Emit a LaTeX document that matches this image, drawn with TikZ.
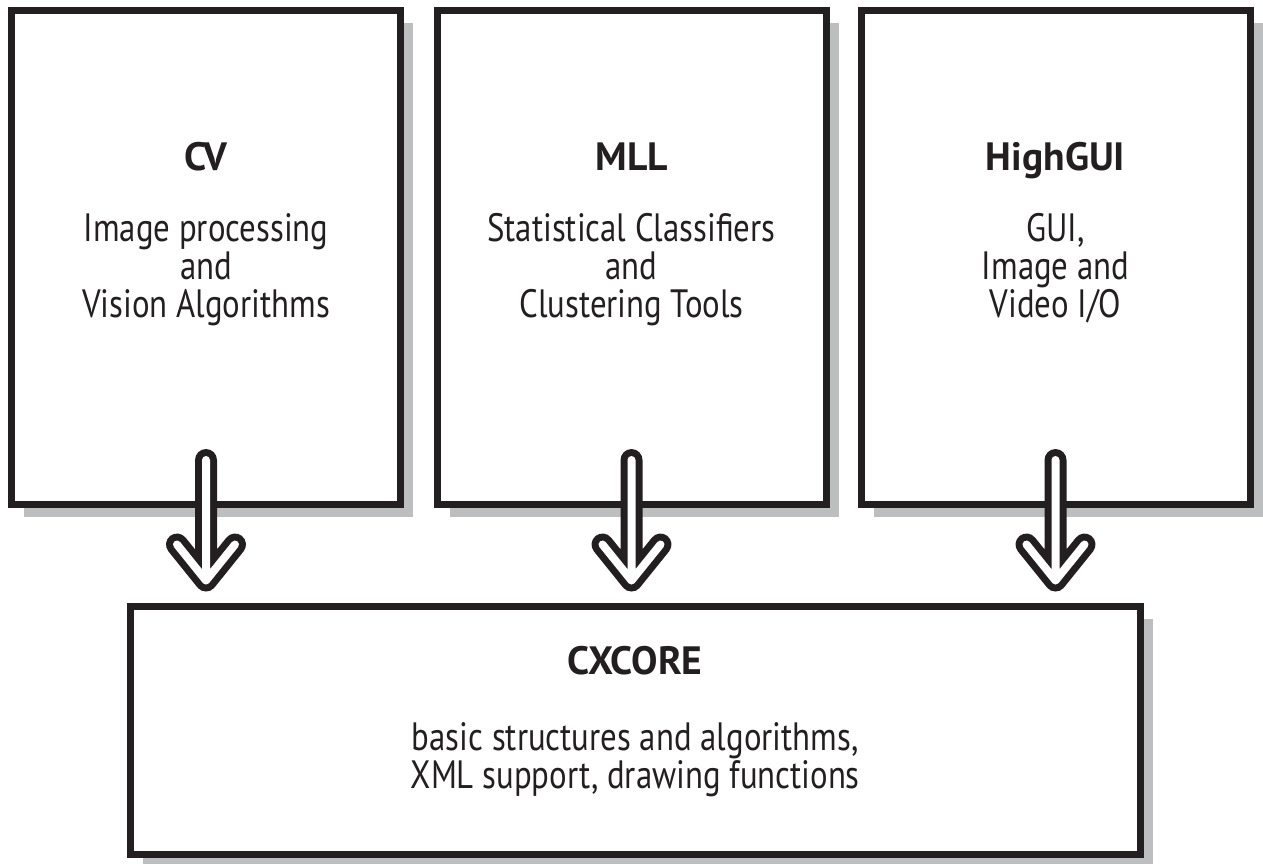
\documentclass[tikz,border=0pt]{standalone}
\usepackage{fontspec}
\setmainfont{PT Sans}
\newfontfamily\bodyfont{PT Sans}[FakeStretch=0.83]
\usepackage{tikz}
\usetikzlibrary{positioning,shadows,calc}
\definecolor{inkblack}{HTML}{231F20}
\definecolor{shadowgray}{HTML}{BCBEC0}

\begin{document}
\begin{tikzpicture}[x=1cm,y=1cm,
  module/.style={draw=inkblack,line width=0.14cm,fill=white,inner sep=0pt,
    drop shadow={shadow xshift=0.25cm,shadow yshift=-0.25cm,fill=shadowgray,opacity=1}},
  upper/.style={module,minimum width=7.78cm,minimum height=9.89cm},
  title/.style={font=\fontsize{22.5}{21.6}\selectfont\bfseries,text=inkblack,inner sep=0pt,anchor=base},
  body/.style={font=\bodyfont\fontsize{22.5}{21.6}\selectfont,text=inkblack,align=center,inner sep=0pt,anchor=base},
  hollow/.style={draw=inkblack,line width=0.14cm,double=white,double distance=0.16cm,
    line cap=round,line join=round}]
\useasboundingbox (0,0) rectangle (25.26,-17.26);

\node[upper] (cv) at (4.12,-5.145) {};
\node[upper] (mll) at (12.63,-5.145) {};
\node[upper] (gui) at (21.11,-5.145) {};
\node[module,minimum width=20.19cm,minimum height=4.96cm] (core) at (12.705,-14.6) {};

% titles sit on their baseline, body texts on their last line
\node[title] (cvname) at ($(cv.north)+(0,-3.28)$) {CV};
\node[body] (cvtext) at ($(cv.north)+(0,-6.22)$) {Image processing\\and\\Vision Algorithms};
\node[title] (mllname) at ($(mll.north)+(0,-3.28)$) {MLL};
\node[body] (mlltext) at ($(mll.north)+(0,-6.22)$) {Statistical Classifiers\\and\\Clustering Tools};
\node[title] (guiname) at ($(gui.north)+(0,-3.28)$) {HighGUI};
\node[body] (guitext) at ($(gui.north)+(0,-6.22)$) {GUI,\\Image and\\Video I/O};

\node[title] (corename) at ($(core.north)+(0,-1.44)$) {CXCORE};
\node[body] (coretext) at ($(core.north)+(0,-3.72)$) {basic structures and algorithms,\\XML support, drawing functions};

\foreach \src in {cv,mll,gui} {
  \coordinate (\src tip) at ([yshift=0.44cm]\src.south |- core.north);
  \draw[hollow] ([yshift=0.96cm]\src.south) -- (\src tip)
    ([shift={(-0.58,0.72)}]\src tip) -- (\src tip) -- ++(0.58,0.72);
}
\end{tikzpicture}
\end{document}
